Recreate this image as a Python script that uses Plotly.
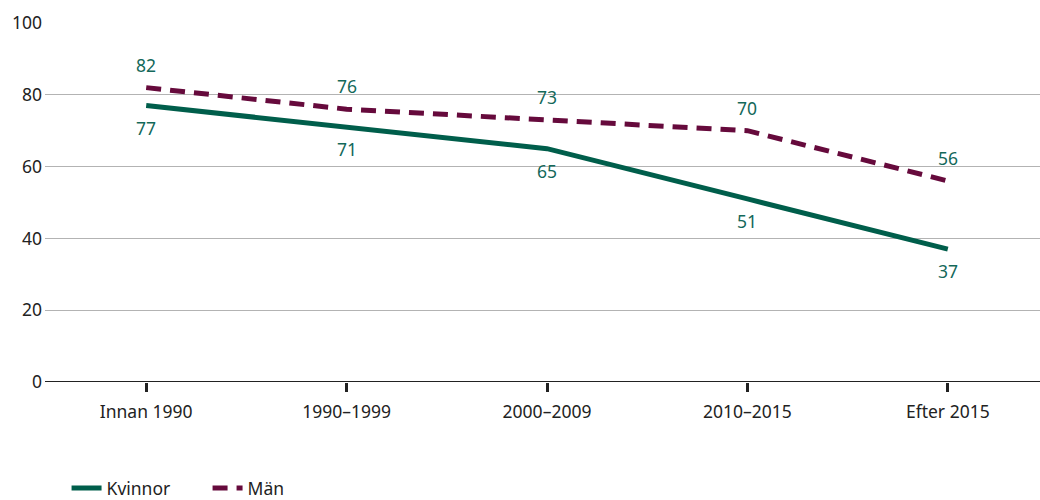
import plotly.graph_objects as go

periods = ["Innan 1990", "1990–1999", "2000–2009", "2010–2015", "Efter 2015"]
kvinnor = [77, 71, 65, 51, 37]
man = [82, 76, 73, 70, 56]
y_ticks = [0, 20, 40, 60, 80, 100]

GREEN = "#005e4b"
PURPLE = "#660a3c"
LABEL = "#13685a"
TEXT = "#222222"
FONT = "Noto Sans"
SIZE = 17.5

fig = go.Figure()
fig.add_trace(go.Scatter(
    x=periods, y=kvinnor, name="Kvinnor", mode="lines",
    line=dict(color=GREEN, width=5),
))
fig.add_trace(go.Scatter(
    x=periods, y=man, name="Män", mode="lines",
    line=dict(color=PURPLE, width=5, dash="15px,9px"),
))

# value labels: men above their line, women below
for p, v in zip(periods, man):
    fig.add_annotation(x=p, y=v, text=str(v), showarrow=False, yshift=23,
                       font=dict(family=FONT, size=SIZE, color=LABEL))
for p, v in zip(periods, kvinnor):
    fig.add_annotation(x=p, y=v, text=str(v), showarrow=False, yshift=-22,
                       font=dict(family=FONT, size=SIZE, color=LABEL))

fig.update_layout(
    width=1040, height=500,
    margin=dict(l=45, r=0, t=23, b=118),
    plot_bgcolor="white", paper_bgcolor="white",
    font=dict(family=FONT, size=SIZE, color=TEXT),
    showlegend=True,
    legend=dict(orientation="h", xref="container", x=0.064, xanchor="left",
                yref="container", y=0.024, yanchor="middle",
                font=dict(family=FONT, size=SIZE, color=TEXT),
                tracegroupgap=0, entrywidth=96, entrywidthmode="pixels"),
    xaxis=dict(
        range=[-0.505, 4.46], showgrid=False, zeroline=False,
        showline=False, ticks="outside", ticklen=9, tickwidth=2.5, tickcolor=TEXT,
        tickfont=dict(size=SIZE), ticklabelstandoff=5,
    ),
    yaxis=dict(
        range=[0, 100], tickvals=y_ticks, showgrid=True, gridcolor="#b3b3b3", gridwidth=1,
        zeroline=False, showline=False, ticks="", tickfont=dict(size=SIZE),
        ticklabelstandoff=2,
    ),
)
# baseline drawn across the plot at y = 0
fig.add_shape(type="line", xref="paper", yref="y", x0=0, x1=1, y0=0, y1=0,
              line=dict(color=TEXT, width=2))

fig.write_html("out.html")
